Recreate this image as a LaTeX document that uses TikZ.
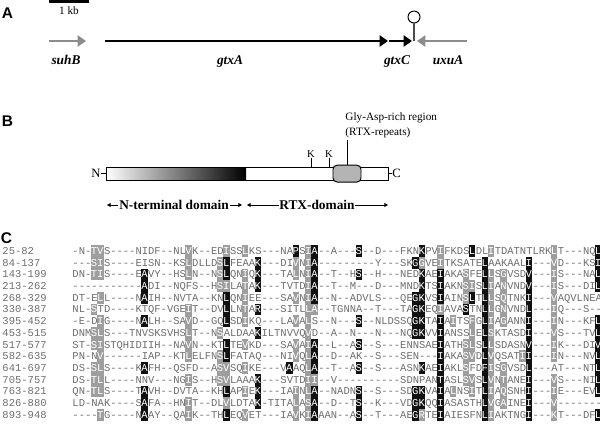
\documentclass[tikz,border=0pt]{standalone}
\usepackage{fontspec}
\setmainfont{Liberation Serif}
\setsansfont{Liberation Sans}
\setmonofont{Liberation Mono}
\usepackage{xstring}
\usetikzlibrary{arrows.meta}

\definecolor{seqgrey}{HTML}{6E6E6E}
\definecolor{cellgrey}{HTML}{9E9E9E}
\definecolor{cellblack}{HTML}{111111}
\definecolor{genegrey}{HTML}{8C8C8C}
\definecolor{repgrey}{HTML}{B4B4B4}

\tikzset{
  panel/.style={font=\sffamily\bfseries\fontsize{11}{13}\selectfont},
  gene/.style={font=\bfseries\itshape\fontsize{9.5}{11}\selectfont},
  lbl/.style={font=\fontsize{8}{10}\selectfont},
  domlbl/.style={font=\bfseries\fontsize{9.5}{11}\selectfont,fill=white,inner xsep=.6pt},
  seqtxt/.style={font=\ttfamily\fontsize{7.47}{9}\selectfont,text=seqgrey},
  genearrow/.style={line width=1.9pt,-{Triangle[length=6pt,width=8pt]}},
  domarrow/.style={line width=.6pt,{Triangle[length=2.6pt,width=2.8pt]}-{Triangle[length=2.6pt,width=2.8pt]}}
}

% one alignment row: index, range, residues, grey columns, black columns
\newcommand\alnrow[5]{%
  \pgfmathsetmacro\ry{251+(#1-1)*11.7}
  \node[seqtxt,anchor=base west] (lab#1) at (2,\ry+3.4) {#2};
  \node[seqtxt,anchor=base west] (seq#1) at (72,\ry+3.4) {#3};
  \foreach \c in {#4}{\StrChar{#3}{\c}[\ch]
    \fill[cellgrey] (65.7+\c*6.3,\ry-5.85) rectangle +(6.3,11.7);
    \node[seqtxt,text=white,anchor=base] (g#1-\c) at (68.85+\c*6.3,\ry+3.4) {\ch};}
  \foreach \c in {#5}{\StrChar{#3}{\c}[\ch]
    \fill[cellblack] (65.7+\c*6.3,\ry-5.85) rectangle +(6.3,11.7);
    \node[seqtxt,text=white,anchor=base] (k#1-\c) at (68.85+\c*6.3,\ry+3.4) {\ch};}
}

\begin{document}
\begin{tikzpicture}[x=.025cm,y=-.025cm,line width=.7pt,
  every node/.style={inner sep=0pt}]
  \path[use as bounding box] (0,0) rectangle (600,430);

  % A: gene map
  \node[panel] (pA) at (7.5,13.5) {A};
  \coordinate (sc0) at (49,1.3);
  \coordinate (sc1) at (89,1.3);
  \draw[line width=1.8pt] (sc0) -- (sc1);
  \node[lbl,anchor=base] (kb) at (69,14.5) {1 kb};
  \coordinate (suhB0) at (49,41);
  \coordinate (suhB1) at (86,41);
  \coordinate (gtxA0) at (105,41);
  \coordinate (gtxA1) at (388,41);
  \coordinate (gtxC0) at (389,41);
  \coordinate (gtxC1) at (412,41);
  \coordinate (uxuA0) at (467,41);
  \coordinate (uxuA1) at (417,41);
  \draw[genearrow,genegrey] (suhB0) -- (suhB1);
  \draw[genearrow] (gtxA0) -- (gtxA1);
  \draw[genearrow] (gtxC0) -- (gtxC1);
  \draw[genearrow,genegrey] (uxuA0) -- (uxuA1);
  \node[circle,draw,fill=white,minimum size=.3cm] (term) at (414,17) {};
  \coordinate (stem) at (414,41);
  \draw[line width=.8pt,black!70] (term.south) -- (stem);
  \node[gene,anchor=base] (suhB) at (66,64.5) {suhB};
  \node[gene,anchor=base] (gtxA) at (230,64.5) {gtxA};
  \node[gene,anchor=base] (gtxC) at (397,64.5) {gtxC};
  \node[gene,anchor=base] (uxuA) at (448,64.5) {uxuA};

  % B: protein
  \node[panel] (pB) at (7.5,121.5) {B};
  \shade[left color=white,right color=black] (106,167.3) rectangle (246,180);
  \draw (106,167.3) rectangle (388,180);
  \node[draw,fill=repgrey,rounded corners=.1cm,minimum width=.7cm,minimum height=.42cm] (rep) at (347,173.6) {};
  \coordinate (barW) at (106,173.6);
  \coordinate (barE) at (388,173.6);
  \node[lbl,font=\fontsize{9}{10}\selectfont,anchor=east] (nN) at (101,173.6) {N};
  \node[lbl,font=\fontsize{9}{10}\selectfont,anchor=west] (nC) at (392,173.6) {C};
  \draw (nN) -- (barW);
  \draw (nC) -- (barE);
  \node[lbl,font=\fontsize{7.5}{9}\selectfont,anchor=south] (k1) at (311,157.5) {K};
  \node[lbl,font=\fontsize{7.5}{9}\selectfont,anchor=south] (k2) at (329,157.5) {K};
  \coordinate (k1b) at (311,167.3);
  \coordinate (k2b) at (329,167.3);
  \draw (k1) -- (k1b);
  \draw (k2) -- (k2b);
  \node[lbl,anchor=base west] (gly1) at (345,120.5) {Gly-Asp-rich region};
  \node[lbl,anchor=base west] (gly2) at (345,135.5) {(RTX-repeats)};
  \coordinate (glytop) at (347,140);
  \draw (rep.north) -- (glytop);
  \coordinate (nt0) at (107,205);
  \coordinate (nt1) at (242,205);
  \coordinate (rtx0) at (247,205);
  \coordinate (rtx1) at (388,205);
  \draw[domarrow] (nt0) -- (nt1);
  \draw[domarrow] (rtx0) -- (rtx1);
  \node[domlbl] (ntd) at (174,205) {N-terminal domain};
  \node[domlbl] (rtxd) at (317,205) {RTX-domain};

  % C: alignment
  \node[panel] (pC) at (6.5,238) {C};
  \alnrow{1}{25-82}{-N-TVS----NIDF--NLVK--EDISSLKS---NAPSIA--A---S--D---FKNKPVIFKDSLDLITDATNTLRKLT---NQL}{4,5,19,25,28,38,59,67,77}{36,39,46,56,64,84}
  \alnrow{2}{84-137}{---SIS----EISN--KSLDLLDSLFEAAK---DIVNIA---------Y---SKGGVEITKSATELAAKAALI---VD---KSI}{4,5,19,24,36,38,56,59,77}{25,30,39,55,66,73,84}
  \alnrow{3}{143-199}{DN-TIS----EAVY--HSLN--NSLQNIQK---TALNIA--T--HS--H---NEDKAEIAKASFELLSGVSDV---IS---NAL}{4,5,19,24,28,36,38,63,67,69,77}{12,25,30,39,46,56,59,66,73,84}
  \alnrow{4}{213-262}{-----------ADI--NQFS--HSILATAK---TVTDIA--T--M---D---MNDKTSIAKNSISLIANVNDV---IS---DIL}{24,25,28,38,63,64,67,69,77}{12,30,39,56,59,66,73,84}
  \alnrow{5}{268-329}{DT-ELL----NAIH--NVTA--KNLQNIEE---SAVNIA--N--ADVLS---QEGKVSIAINSLTLLSQTNKI---VAQVLNEA}{5,28,36,38,63,67,69,77}{12,25,39,55,56,59,64,66,73}
  \alnrow{6}{330-387}{NL-STD----KTQF-VGEIT--DVLLNTAR---SITLLA--TGNNA--T---TAGKEQIAVASTNLLGNVNDL---IQ---S--}{4,19,28,38,39,59,67,69,77}{25,30,55,56,63,66,73}
  \alnrow{7}{395-452}{-E-DIG----NALH--SAVD--GQLSDIKQ---LAVALS--N---S--NLDSSQGKTAIAITSFGLIAGANNI---IN---KFL}{5,19,28,36,38,61,64,67,69,77}{12,25,46,55,56,59,66,73,84}
  \alnrow{8}{453-515}{DNMSLS---TNVSKSVHSLT--NSALDAAKILTNVVQVD--A--N---N---NQGKVVIANSSLELSKTASDI---VS---TVL}{4,5,19,24,38,64,67,77}{30,55,56,59,66,73,84}
  \alnrow{9}{517-577}{ST-SISTQHIDIIH--NAVN--KTLTEVKD---SAVAIA--L--AS--S---ENNSAEIATHSLSLLSDASNV---IK---DIV}{4,5,19,28,36,38,63,64,67,77}{25,39,46,59,66,73,84}
  \alnrow{10}{582-635}{PN-NV------IAP--KTLELFNSLFATAQ---NIVQLA--D--AK--S---SEN---IAKASVDLVQSATII---IN---NVL}{5,19,24,36,38,63,64,67,72,77}{25,39,59,66,73,84}
  \alnrow{11}{641-697}{DS-SLS----KAFH--QSFD--ASVSQIKE---VAAQLA--T--AS--S---ASNKAEIAKLSFDFISGVSDL---AT---NTL}{4,5,24,25,28,38,63,67,69}{12,35,39,46,56,59,66,73,84}
  \alnrow{12}{705-757}{DS-TLL----NNV---NGIS--HSVLAAAK---SVTDII--V----------SDNPANTASLSVSLVNTANEI---VS---NIL}{4,5,19,24,25,38,39,63,64,67,69,77}{30,59,66,73,84}
  \alnrow{13}{763-821}{QN-TLS----TAVH--DVTA--KHLAPIEK---IAINLA--NADNS--S---SDGKVAIALNSITLIAQSNHI---IE---EVL}{4,5,28,36,38,61,64,67,69,77}{12,25,30,39,46,55,56,59,66,73,84}
  \alnrow{14}{826-880}{LD-NAK----SAFA--HNIT--DLVLDTAK-TITALASA--D--TS--K---VDGKQQIASASTHLVGAINEI---V-------}{19,25,36,38,67,69,77}{12,30,39,46,55,56,59,66,73}
  \alnrow{15}{893-948}{----TG----NAAY--QAIK--THLEQVET---IAVKIAAAN--AS--T---AEGRTEIAIESFNLIAKTNGI---KT---DFL}{5,19,28,36,38,56,67,77}{12,25,39,46,55,59,66,73,84}
\end{tikzpicture}
\end{document}
